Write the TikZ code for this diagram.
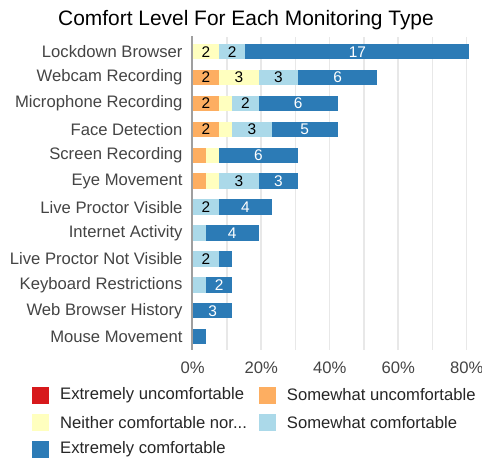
\documentclass[tikz,border=0pt]{standalone}
\usepackage{fontspec}
\setmainfont{Liberation Sans}
\usepackage{tikz}
\definecolor{cred}{HTML}{D7191C}
\definecolor{corange}{HTML}{FDAE61}
\definecolor{cyellow}{HTML}{FFFFBF}
\definecolor{clight}{HTML}{ABD9E9}
\definecolor{cdark}{HTML}{2C7BB6}
\definecolor{clabel}{HTML}{444444}
\definecolor{cgrid}{HTML}{E8E8E8}

\begin{document}
\begin{tikzpicture}[
  seg/.style={anchor=west,inner sep=0pt,outer sep=0pt,minimum height=15.5bp,font=\fontsize{15.5}{15}\selectfont,text=black},
  segdark/.style={seg,fill=cdark,text=white},
  rowlab/.style={anchor=east,inner sep=0pt,text=clabel,font=\fontsize{16.7}{17}\selectfont},
  tick/.style={inner sep=0pt,text=clabel,font=\fontsize{16.7}{17}\selectfont},
  key/.style={inner sep=0pt,minimum size=17bp},
  keylab/.style={anchor=west,inner sep=0pt,text=black!85,font=\fontsize{16.7}{17}\selectfont}]
\useasboundingbox (0bp,0bp) rectangle (482bp,-459bp);
\node (title) at (246bp,-20bp)[inner sep=0pt,font=\fontsize{21}{21}\selectfont] {Comfort Level For Each Monitoring Type};
% grid and axis
\draw [cgrid,line width=1.5bp] (227bp,-37bp) -- (227bp,-350bp) (261.2bp,-37bp) -- (261.2bp,-350bp)
  (295.5bp,-37bp) -- (295.5bp,-350bp) (329.7bp,-37bp) -- (329.7bp,-350bp)
  (364bp,-37bp) -- (364bp,-350bp) (398.2bp,-37bp) -- (398.2bp,-350bp)
  (432.5bp,-37bp) -- (432.5bp,-350bp) (466.7bp,-37bp) -- (466.7bp,-350bp);
\draw [gray!75,line width=2bp] (192bp,-36bp) -- (192bp,-350bp);
% row labels
\node (tLB) at (182.7bp,-51.7bp)[rowlab] {Lockdown Browser};
\node (tWR) at (182.7bp,-77.6bp)[rowlab] {Webcam Recording};
\node (tMR) at (182.7bp,-103.5bp)[rowlab] {Microphone Recording};
\node (tFD) at (182.7bp,-129.4bp)[rowlab] {Face Detection};
\node (tSR) at (182.7bp,-155.3bp)[rowlab] {Screen Recording};
\node (tEM) at (182.7bp,-181.2bp)[rowlab] {Eye Movement};
\node (tLPV) at (182.7bp,-207.1bp)[rowlab] {Live Proctor Visible};
\node (tIA) at (182.7bp,-233bp)[rowlab] {Internet Activity};
\node (tLPN) at (182.7bp,-258.9bp)[rowlab] {Live Proctor Not Visible};
\node (tKR) at (182.7bp,-284.8bp)[rowlab] {Keyboard Restrictions};
\node (tWBH) at (182.7bp,-310.7bp)[rowlab] {Web Browser History};
\node (tMM) at (182.7bp,-336.6bp)[rowlab] {Mouse Movement};
% bars
\node (LB1) at (193bp,-51.7bp)[seg,fill=cyellow,minimum width=26bp] {2};
\node (LB2) at (219bp,-51.7bp)[seg,fill=clight,minimum width=26.4bp] {2};
\node (LB3) at (245.4bp,-51.7bp)[segdark,minimum width=223.9bp] {17};
\node (WR1) at (193bp,-77.6bp)[seg,fill=corange,minimum width=26bp] {2};
\node (WR2) at (219bp,-77.6bp)[seg,fill=cyellow,minimum width=39.6bp] {3};
\node (WR3) at (258.6bp,-77.6bp)[seg,fill=clight,minimum width=39.5bp] {3};
\node (WR4) at (298.1bp,-77.6bp)[segdark,minimum width=79bp] {6};
\node (MR1) at (193bp,-103.5bp)[seg,fill=corange,minimum width=26bp] {2};
\node (MR2) at (219bp,-103.5bp)[seg,fill=cyellow,minimum width=13.2bp] {};
\node (MR3) at (232.2bp,-103.5bp)[seg,fill=clight,minimum width=26.4bp] {2};
\node (MR4) at (258.6bp,-103.5bp)[segdark,minimum width=79bp] {6};
\node (FD1) at (193bp,-129.4bp)[seg,fill=corange,minimum width=26bp] {2};
\node (FD2) at (219bp,-129.4bp)[seg,fill=cyellow,minimum width=13.2bp] {};
\node (FD3) at (232.2bp,-129.4bp)[seg,fill=clight,minimum width=39.5bp] {3};
\node (FD4) at (271.7bp,-129.4bp)[segdark,minimum width=65.9bp] {5};
\node (SR1) at (193bp,-155.3bp)[seg,fill=corange,minimum width=12.9bp] {};
\node (SR2) at (205.9bp,-155.3bp)[seg,fill=cyellow,minimum width=13.1bp] {};
\node (SR3) at (219bp,-155.3bp)[segdark,minimum width=79bp] {6};
\node (EM1) at (193bp,-181.2bp)[seg,fill=corange,minimum width=12.9bp] {};
\node (EM2) at (205.9bp,-181.2bp)[seg,fill=cyellow,minimum width=13.1bp] {};
\node (EM3) at (219bp,-181.2bp)[seg,fill=clight,minimum width=39.6bp] {3};
\node (EM4) at (258.6bp,-181.2bp)[segdark,minimum width=39.5bp] {3};
\node (LPV1) at (193bp,-207.1bp)[seg,fill=clight,minimum width=26bp] {2};
\node (LPV2) at (219bp,-207.1bp)[segdark,minimum width=52.7bp] {4};
\node (IA1) at (193bp,-233bp)[seg,fill=clight,minimum width=12.9bp] {};
\node (IA2) at (205.9bp,-233bp)[segdark,minimum width=52.7bp] {4};
\node (LPN1) at (193bp,-258.9bp)[seg,fill=clight,minimum width=26bp] {2};
\node (LPN2) at (219bp,-258.9bp)[segdark,minimum width=13.2bp] {};
\node (KR1) at (193bp,-284.8bp)[seg,fill=clight,minimum width=12.9bp] {};
\node (KR2) at (205.9bp,-284.8bp)[segdark,minimum width=26.3bp] {2};
\node (WBH1) at (193bp,-310.7bp)[segdark,minimum width=39.2bp] {3};
\node (MM1) at (193bp,-336.6bp)[segdark,minimum width=12.9bp] {};
% axis labels
\node (p0) at (192.7bp,-368bp)[tick] {0\%};
\node (p20) at (261.2bp,-368bp)[tick] {20\%};
\node (p40) at (329.7bp,-368bp)[tick] {40\%};
\node (p60) at (398.2bp,-368bp)[tick] {60\%};
\node (p80) at (466.7bp,-368bp)[tick] {80\%};
% legend
\node (k1) at (40.5bp,-395bp)[key,fill=cred] {};
\node (k1t) at (60bp,-395bp)[keylab] {Extremely uncomfortable};
\node (k2) at (267.5bp,-395bp)[key,fill=corange] {};
\node (k2t) at (286.7bp,-395bp)[keylab] {Somewhat uncomfortable};
\node (k3) at (40.5bp,-422.3bp)[key,fill=cyellow] {};
\node (k3t) at (60bp,-422.3bp)[keylab] {Neither comfortable nor...};
\node (k4) at (267.5bp,-422.3bp)[key,fill=clight] {};
\node (k4t) at (286.7bp,-422.3bp)[keylab] {Somewhat comfortable};
\node (k5) at (40.5bp,-449.3bp)[key,fill=cdark] {};
\node (k5t) at (60bp,-449.3bp)[keylab] {Extremely comfortable};
\end{tikzpicture}
\end{document}
